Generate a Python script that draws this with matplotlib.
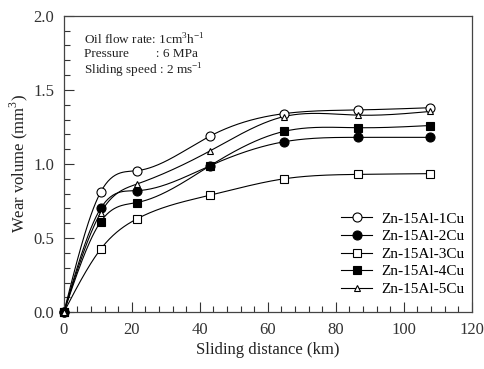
import numpy as np
import matplotlib.pyplot as plt
from matplotlib.ticker import MultipleLocator

plt.rcParams['font.family'] = ['Liberation Serif', 'DejaVu Serif']
plt.rcParams['mathtext.fontset'] = 'custom'
plt.rcParams['mathtext.rm'] = 'Liberation Serif'

# sliding distance (km)
distance = [0, 10.8, 21.5, 43.1, 64.7, 86.4, 107.8]
# wear volume (mm3)
cu1 = [0, 0.81, 0.955, 1.19, 1.34, 1.365, 1.38]
cu2 = [0, 0.70, 0.82, 0.99, 1.15, 1.18, 1.18]
cu3 = [0, 0.425, 0.63, 0.79, 0.90, 0.93, 0.935]
cu4 = [0, 0.61, 0.74, 0.99, 1.22, 1.245, 1.26]
cu5 = [0, 0.67, 0.865, 1.09, 1.32, 1.33, 1.355]
labels = ['Zn-15Al-1Cu', 'Zn-15Al-2Cu', 'Zn-15Al-3Cu', 'Zn-15Al-4Cu', 'Zn-15Al-5Cu']


def natural_spline(x, y, n=300):
    #natural cubic spline through the points, for the smooth line only
    x = np.asarray(x, float); y = np.asarray(y, float)
    k = len(x)
    h = np.diff(x)
    A = np.zeros((k, k)); b = np.zeros(k)
    A[0, 0] = 1; A[-1, -1] = 1
    for i in range(1, k-1):
        A[i, i-1] = h[i-1]
        A[i, i] = 2*(h[i-1]+h[i])
        A[i, i+1] = h[i]
        b[i] = 3*((y[i+1]-y[i])/h[i] - (y[i]-y[i-1])/h[i-1])
    c = np.linalg.solve(A, b)
    xs = np.linspace(x[0], x[-1], n)
    idx = np.clip(np.searchsorted(x, xs)-1, 0, k-2)
    dx = xs - x[idx]
    bb = (y[idx+1]-y[idx])/h[idx] - h[idx]*(2*c[idx]+c[idx+1])/3
    dd = (c[idx+1]-c[idx])/(3*h[idx])
    ys = y[idx] + bb*dx + c[idx]*dx**2 + dd*dx**3
    return xs, ys


fig = plt.figure(figsize=(4.84, 3.69), dpi=100)
ax = fig.add_axes([0.132, 0.154, 0.843, 0.803])

styles = [dict(marker='o', mfc='white'),
          dict(marker='o', mfc='black'),
          dict(marker='s', mfc='white'),
          dict(marker='s', mfc='black'),
          dict(marker='^', mfc='white')]
sizes = [6.5, 6.5, 5.5, 6, 4.5]

for ys_, st, ms, lab in zip([cu1, cu2, cu3, cu4, cu5], styles, sizes, labels):
    xs, ys = natural_spline(distance, ys_)
    ax.plot(xs, ys, color='black', lw=0.8)
    ax.plot(distance, ys_, ls='none', mec='black', mew=0.8, ms=ms, clip_on=False, zorder=3, **st)
    ax.plot([], [], color='black', lw=0.8, mec='black', mew=0.8, ms=ms, label=lab, **st)

ax.set_xlim(0, 120)
ax.set_ylim(0, 2.0)
ax.xaxis.set_major_locator(MultipleLocator(20))
ax.xaxis.set_minor_locator(MultipleLocator(4))
ax.yaxis.set_major_locator(MultipleLocator(0.5))
ax.yaxis.set_minor_locator(MultipleLocator(0.1))
ax.yaxis.set_major_formatter(plt.FormatStrFormatter('%.1f'))
ax.tick_params(which='both', direction='in', top=False, right=False, labelsize=12, colors='#333333')
ax.tick_params(which='major', length=7, width=0.8, pad=7)
ax.tick_params(which='minor', length=4, width=0.8)
for s in ax.spines.values():
    s.set_color('#444444')
    s.set_linewidth(0.9)

ax.set_xlabel('Sliding distance (km)', fontsize=12, color='#222222', labelpad=3)
ax.set_ylabel('Wear volume (mm$^3$)', fontsize=12, color='#222222', labelpad=2)

ax.text(0.05, 0.945, 'Oil flow rate: 1cm$^3$h$^{-1}$\nPressure        : 6 MPa\nSliding speed : 2 ms$^{-1}$',
        transform=ax.transAxes, fontsize=9.5, va='top', ha='left', linespacing=1.1, color='#222222')

ax.legend(loc='lower left', bbox_to_anchor=(0.68, 0.055), borderaxespad=0, borderpad=0,
          frameon=False, fontsize=11, handlelength=2.0, handletextpad=0.6, labelspacing=0.25)

fig.savefig('out.png', dpi=100)
